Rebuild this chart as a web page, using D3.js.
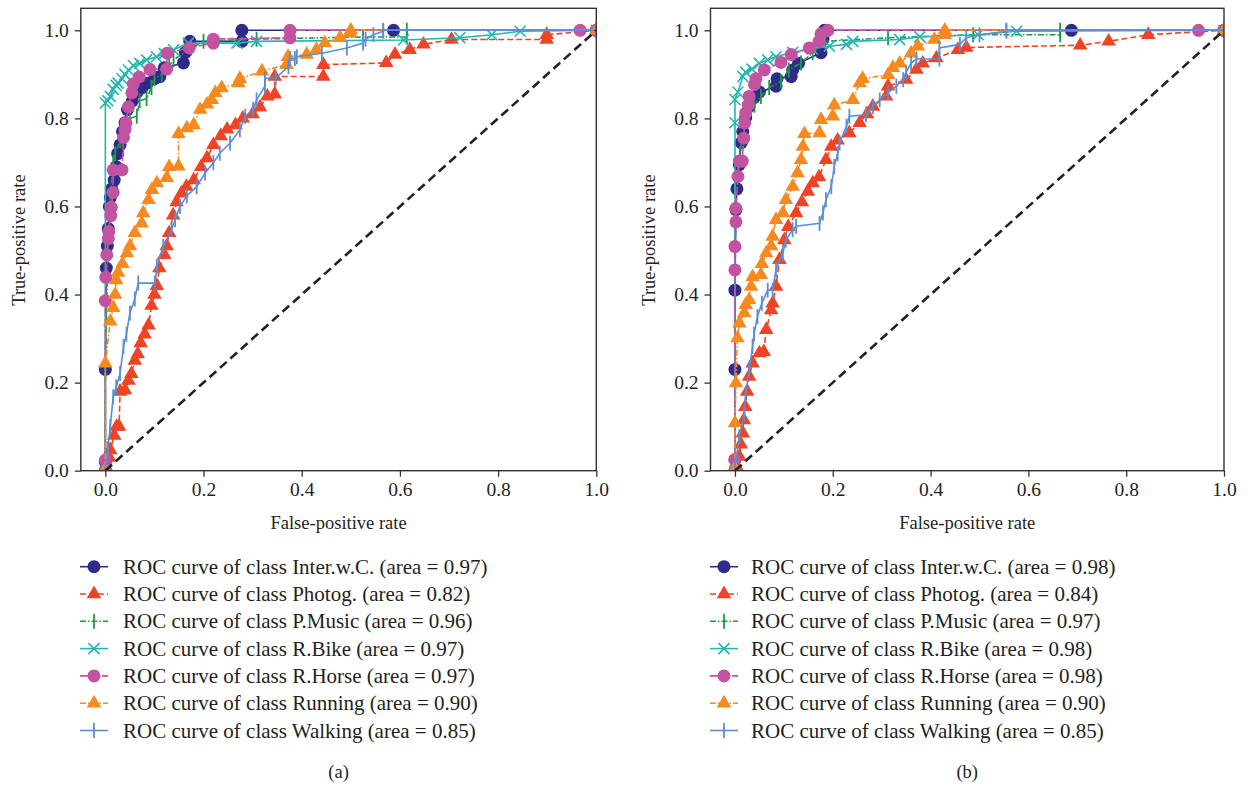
<!DOCTYPE html>
<html>
<head>
<meta charset="utf-8">
<script src="https://d3js.org/d3.v7.min.js"></script>
<style>
  body { margin: 0; background: #fff; }
  text { font-family: "Liberation Serif", "DejaVu Serif", serif; fill: #231f20; }
</style>
</head>
<body>
<script>
// ---- data ----
const classes = ['Inter.w.C.', 'Photog.', 'P.Music', 'R.Bike', 'R.Horse', 'Running', 'Walking']
const areasA = [0.97, 0.82, 0.96, 0.97, 0.97, 0.90, 0.85]
const areasB = [0.98, 0.84, 0.97, 0.98, 0.98, 0.90, 0.85]
const ticks = [0, 0.2, 0.4, 0.6, 0.8, 1.0]

// panel (a) curves: [false-positive rate, true-positive rate]
const interA = [[0,0],[0,0.02],[0,0.23],[0.002,0.46],[0.004,0.51],[0.006,0.55],[0.008,0.6],[0.01,0.62],[0.013,0.64],[0.018,0.66],[0.022,0.69],[0.025,0.72],[0.03,0.74],[0.035,0.77],[0.04,0.79],[0.045,0.82],[0.055,0.84],[0.065,0.86],[0.075,0.87],[0.085,0.88],[0.1,0.89],[0.111,0.895],[0.12,0.915],[0.159,0.926],[0.163,0.95],[0.172,0.975],[0.278,0.975],[0.278,1.0],[0.587,1.0],[1,1]]
const photA = [[0,0],[0.003,0.005],[0.008,0.03],[0.01,0.047],[0.018,0.08],[0.023,0.1],[0.028,0.1],[0.03,0.18],[0.04,0.183],[0.047,0.205],[0.053,0.22],[0.06,0.25],[0.066,0.265],[0.072,0.29],[0.08,0.31],[0.088,0.33],[0.094,0.375],[0.1,0.4],[0.105,0.42],[0.11,0.46],[0.12,0.49],[0.125,0.51],[0.13,0.54],[0.138,0.58],[0.145,0.61],[0.155,0.63],[0.165,0.645],[0.18,0.66],[0.195,0.69],[0.207,0.71],[0.22,0.74],[0.235,0.76],[0.248,0.775],[0.265,0.785],[0.28,0.8],[0.3,0.81],[0.315,0.825],[0.33,0.85],[0.345,0.855],[0.345,0.895],[0.444,0.895],[0.444,0.922],[0.572,0.926],[0.59,0.945],[0.62,0.956],[0.648,0.968],[0.705,0.979],[0.899,0.979],[0.899,0.99],[1,1]]
const pmusA = [[0,0],[0,0.23],[0.005,0.5],[0.01,0.62],[0.016,0.7],[0.02,0.72],[0.03,0.75],[0.04,0.78],[0.05,0.8],[0.064,0.805],[0.07,0.84],[0.084,0.845],[0.094,0.87],[0.1,0.89],[0.115,0.9],[0.13,0.92],[0.139,0.933],[0.175,0.96],[0.2,0.975],[0.308,0.98],[0.525,0.985],[0.614,0.985],[0.614,1.0],[1,1]]
const bikeA = [[0,0],[0,0.835],[0.005,0.84],[0.01,0.85],[0.016,0.866],[0.022,0.875],[0.026,0.88],[0.034,0.89],[0.04,0.9],[0.047,0.91],[0.057,0.92],[0.07,0.925],[0.084,0.933],[0.104,0.94],[0.12,0.947],[0.139,0.956],[0.169,0.971],[0.268,0.971],[0.308,0.975],[0.607,0.978],[0.722,0.983],[0.787,0.99],[0.845,0.998],[1,1]]
const horseA = [[0,0],[0,0.024],[0,0.386],[0.001,0.439],[0.003,0.49],[0.006,0.527],[0.007,0.543],[0.011,0.579],[0.012,0.598],[0.016,0.632],[0.016,0.683],[0.034,0.683],[0.037,0.757],[0.04,0.775],[0.042,0.79],[0.047,0.826],[0.054,0.858],[0.057,0.878],[0.069,0.894],[0.091,0.911],[0.125,0.912],[0.126,0.948],[0.171,0.96],[0.22,0.971],[0.22,0.98],[0.376,0.983],[0.376,1.0],[0.967,1.0],[1,1]]
const runA = [[0,0],[0,0.003],[0,0.244],[0.01,0.339],[0.016,0.37],[0.02,0.4],[0.022,0.433],[0.026,0.45],[0.035,0.47],[0.044,0.494],[0.05,0.51],[0.06,0.54],[0.074,0.562],[0.077,0.585],[0.088,0.615],[0.095,0.638],[0.105,0.653],[0.125,0.665],[0.13,0.69],[0.149,0.691],[0.149,0.765],[0.166,0.778],[0.18,0.785],[0.193,0.82],[0.207,0.832],[0.217,0.842],[0.224,0.858],[0.237,0.869],[0.271,0.88],[0.274,0.89],[0.319,0.907],[0.369,0.922],[0.372,0.94],[0.41,0.945],[0.43,0.956],[0.447,0.971],[0.478,0.983],[0.498,0.993],[0.5,1.0],[1,1]]
const walkA = [[0,0],[0.005,0.05],[0.01,0.1],[0.016,0.168],[0.022,0.19],[0.03,0.221],[0.037,0.282],[0.043,0.31],[0.05,0.358],[0.06,0.39],[0.067,0.426],[0.101,0.426],[0.105,0.464],[0.118,0.509],[0.135,0.547],[0.142,0.57],[0.152,0.6],[0.166,0.624],[0.186,0.645],[0.203,0.676],[0.22,0.699],[0.233,0.721],[0.254,0.744],[0.274,0.774],[0.285,0.805],[0.301,0.82],[0.308,0.842],[0.325,0.873],[0.325,0.891],[0.347,0.891],[0.373,0.918],[0.376,0.936],[0.386,0.936],[0.39,0.94],[0.441,0.948],[0.492,0.96],[0.525,0.971],[0.53,0.98],[0.546,0.99],[0.566,0.998],[0.566,1.0],[1,1]]

// panel (b) curves
const interB = [[0,0],[0,0.025],[0,0.23],[0,0.41],[0.002,0.593],[0.004,0.64],[0.009,0.695],[0.013,0.745],[0.016,0.77],[0.022,0.802],[0.029,0.827],[0.039,0.847],[0.05,0.86],[0.084,0.873],[0.086,0.89],[0.115,0.895],[0.118,0.91],[0.13,0.925],[0.176,0.949],[0.18,0.98],[0.183,1.0],[0.688,1.0],[1,1]]
const photB = [[0,0],[0.003,0.01],[0.009,0.032],[0.012,0.06],[0.016,0.085],[0.018,0.115],[0.021,0.145],[0.025,0.18],[0.029,0.214],[0.036,0.244],[0.05,0.267],[0.059,0.27],[0.064,0.32],[0.074,0.365],[0.077,0.38],[0.084,0.418],[0.091,0.479],[0.101,0.524],[0.109,0.554],[0.125,0.585],[0.137,0.61],[0.149,0.634],[0.159,0.653],[0.172,0.667],[0.186,0.706],[0.197,0.736],[0.21,0.75],[0.234,0.767],[0.255,0.79],[0.27,0.81],[0.282,0.827],[0.309,0.85],[0.313,0.873],[0.35,0.888],[0.371,0.911],[0.384,0.925],[0.412,0.937],[0.456,0.956],[0.473,0.961],[0.706,0.966],[0.764,0.975],[0.845,0.99],[1,1]]
const pmusB = [[0,0],[0,0.3],[0,0.64],[0.01,0.72],[0.022,0.8],[0.04,0.83],[0.053,0.85],[0.07,0.87],[0.094,0.884],[0.11,0.91],[0.135,0.926],[0.159,0.949],[0.185,0.975],[0.313,0.983],[0.487,0.99],[0.665,0.99],[0.665,1.0],[1,1]]
const bikeB = [[0,0],[0,0.79],[0,0.843],[0.006,0.86],[0.016,0.895],[0.022,0.905],[0.035,0.912],[0.05,0.925],[0.067,0.933],[0.084,0.94],[0.118,0.95],[0.158,0.958],[0.193,0.964],[0.228,0.968],[0.241,0.975],[0.337,0.979],[0.378,0.985],[0.497,0.99],[0.576,0.998],[1,1]]
const horseB = [[0,0],[0,0.025],[0,0.456],[0,0.509],[0.002,0.565],[0.002,0.596],[0.006,0.668],[0.009,0.703],[0.015,0.703],[0.018,0.755],[0.02,0.79],[0.022,0.812],[0.027,0.83],[0.029,0.85],[0.04,0.877],[0.043,0.89],[0.06,0.91],[0.094,0.927],[0.115,0.945],[0.152,0.96],[0.172,0.975],[0.176,0.992],[0.19,1.0],[0.948,1.0],[1,1]]
const runB = [[0,0],[0,0.005],[0,0.108],[0.002,0.199],[0.005,0.301],[0.009,0.335],[0.019,0.358],[0.022,0.377],[0.029,0.388],[0.033,0.418],[0.036,0.44],[0.053,0.445],[0.055,0.47],[0.064,0.494],[0.074,0.51],[0.077,0.532],[0.084,0.57],[0.098,0.585],[0.104,0.615],[0.118,0.645],[0.128,0.676],[0.135,0.706],[0.139,0.736],[0.142,0.765],[0.173,0.767],[0.176,0.797],[0.2,0.805],[0.203,0.83],[0.241,0.842],[0.255,0.88],[0.261,0.89],[0.313,0.899],[0.323,0.915],[0.337,0.925],[0.36,0.948],[0.374,0.964],[0.408,0.979],[0.429,0.99],[0.429,1.0],[1,1]]
const walkB = [[0,0],[0,0.01],[0.009,0.077],[0.019,0.13],[0.022,0.176],[0.029,0.229],[0.036,0.282],[0.039,0.31],[0.046,0.35],[0.055,0.38],[0.067,0.41],[0.077,0.41],[0.084,0.457],[0.098,0.494],[0.104,0.524],[0.118,0.547],[0.125,0.555],[0.173,0.562],[0.18,0.585],[0.186,0.615],[0.197,0.645],[0.203,0.691],[0.21,0.72],[0.214,0.744],[0.228,0.782],[0.234,0.805],[0.268,0.808],[0.282,0.827],[0.296,0.842],[0.313,0.858],[0.33,0.873],[0.344,0.888],[0.35,0.905],[0.36,0.925],[0.371,0.935],[0.418,0.935],[0.418,0.96],[0.46,0.968],[0.473,0.983],[0.5,0.99],[0.555,0.998],[0.555,1.0],[1,1]]

// ---- styles per class ----
const colors = ['#302a8a', '#ee4325', '#1c9a48', '#22b6b0', '#c253a0', '#f68a1f', '#5b8fd3']
const dashes = [null, '6,3', '6,2,1.5,2', null, '9,2', '6,2,1.5,2', null]
const markers = ['circle', 'triangle', 'vline', 'x', 'circle', 'triangle', 'vline']

const W = 1251, H = 787

const svg = d3.select('body').append('svg')
  .attr('width', W)
  .attr('height', H)

function drawMarker(g, type, color) {
  if (type === 'circle') {
    g.append('circle').attr('r', 6.5).attr('fill', color)
  } else if (type === 'triangle') {
    g.append('path').attr('d', d3.symbol(d3.symbolTriangle, 92)()).attr('fill', color)
  } else if (type === 'vline') {
    g.append('line').attr('y1', -7.5).attr('y2', 7.5).attr('stroke', color).attr('stroke-width', 1.8)
  } else if (type === 'x') {
    g.append('path').attr('d', 'M-5.5,-5.5L5.5,5.5M-5.5,5.5L5.5,-5.5').attr('stroke', color).attr('stroke-width', 1.6).attr('fill', 'none')
  }
}

function panel(opt) {
  const x = d3.scaleLinear().domain([-0.05, 1.0]).range([opt.left, opt.right])
  const y = d3.scaleLinear().domain([0, 1.05]).range([470.7, 8.3])
  const g = svg.append('g')

  const clipId = 'clip' + opt.id
  g.append('clipPath').attr('id', clipId)
    .append('rect')
    .attr('x', opt.left).attr('y', 8.3)
    .attr('width', opt.right - opt.left).attr('height', 470.7 - 8.3)

  const plot = g.append('g').attr('clip-path', 'url(#' + clipId + ')')

  const line = d3.line()
    .x(function (d) { return x(d[0]) })
    .y(function (d) { return y(d[1]) })

  opt.curves.forEach(function (pts, i) {
    const s = plot.append('g')
    s.append('path')
      .attr('d', line(pts))
      .attr('fill', 'none')
      .attr('stroke', colors[i])
      .attr('stroke-width', 1.6)
      .attr('stroke-dasharray', dashes[i])
    pts.forEach(function (p) {
      const m = s.append('g').attr('transform', 'translate(' + x(p[0]) + ',' + y(p[1]) + ')')
      drawMarker(m, markers[i], colors[i])
    })
  })

  // chance line
  plot.append('path')
    .attr('d', line([[0, 0], [1, 1]]))
    .attr('fill', 'none')
    .attr('stroke', '#222')
    .attr('stroke-width', 2.6)
    .attr('stroke-dasharray', '9,5')

  // frame
  g.append('rect')
    .attr('x', opt.left).attr('y', 8.3)
    .attr('width', opt.right - opt.left).attr('height', 470.7 - 8.3)
    .attr('fill', 'none').attr('stroke', '#333').attr('stroke-width', 1.4)

  const xAxis = g.append('g')
    .attr('transform', 'translate(0,470.7)')
    .call(d3.axisBottom(x).tickValues(ticks).tickFormat(d3.format('.1f')).tickSize(6).tickPadding(5))
  const yAxis = g.append('g')
    .attr('transform', 'translate(' + opt.left + ',0)')
    .call(d3.axisLeft(y).tickValues(ticks).tickFormat(d3.format('.1f')).tickSize(6).tickPadding(6))
  ;[xAxis, yAxis].forEach(function (a) {
    a.select('.domain').remove()
    a.selectAll('line').attr('stroke', '#333').attr('stroke-width', 1.3)
    a.selectAll('text').attr('font-size', 19.5).attr('font-family', 'Liberation Serif').attr('fill', '#231f20')
  })

  const cx = (opt.left + opt.right) / 2
  g.append('text')
    .attr('x', cx).attr('y', 529)
    .attr('text-anchor', 'middle')
    .attr('font-size', 18.5)
    .text('False-positive rate')
  g.append('text')
    .attr('transform', 'translate(' + (opt.left - 56) + ',240) rotate(-90)')
    .attr('text-anchor', 'middle')
    .attr('font-size', 18.5)
    .text('True-positive rate')

  // legend
  const leg = g.append('g')
  classes.forEach(function (c, i) {
    const ly = 566.7 + i * 27.3
    const item = leg.append('g').attr('transform', 'translate(' + opt.legX + ',' + ly + ')')
    item.append('line')
      .attr('x1', 0).attr('x2', 28)
      .attr('stroke', colors[i]).attr('stroke-width', 1.6)
      .attr('stroke-dasharray', dashes[i])
    drawMarker(item.append('g').attr('transform', 'translate(14,0)'), markers[i], colors[i])
    item.append('text')
      .attr('x', opt.legText - opt.legX).attr('y', 7)
      .attr('font-size', 21)
      .text('ROC curve of class ' + c + ' (area = ' + opt.areas[i].toFixed(2) + ')')
  })

  g.append('text')
    .attr('x', cx).attr('y', 778)
    .attr('text-anchor', 'middle')
    .attr('font-size', 18.5)
    .text(opt.caption)
}

panel({ id: 'a', left: 80.8, right: 596.3, curves: [interA, photA, pmusA, bikeA, horseA, runA, walkA], areas: areasA, legX: 80, legText: 123, caption: '(a)' })
panel({ id: 'b', left: 710.5, right: 1224, curves: [interB, photB, pmusB, bikeB, horseB, runB, walkB], areas: areasB, legX: 710, legText: 751, caption: '(b)' })
</script>
</body>
</html>
